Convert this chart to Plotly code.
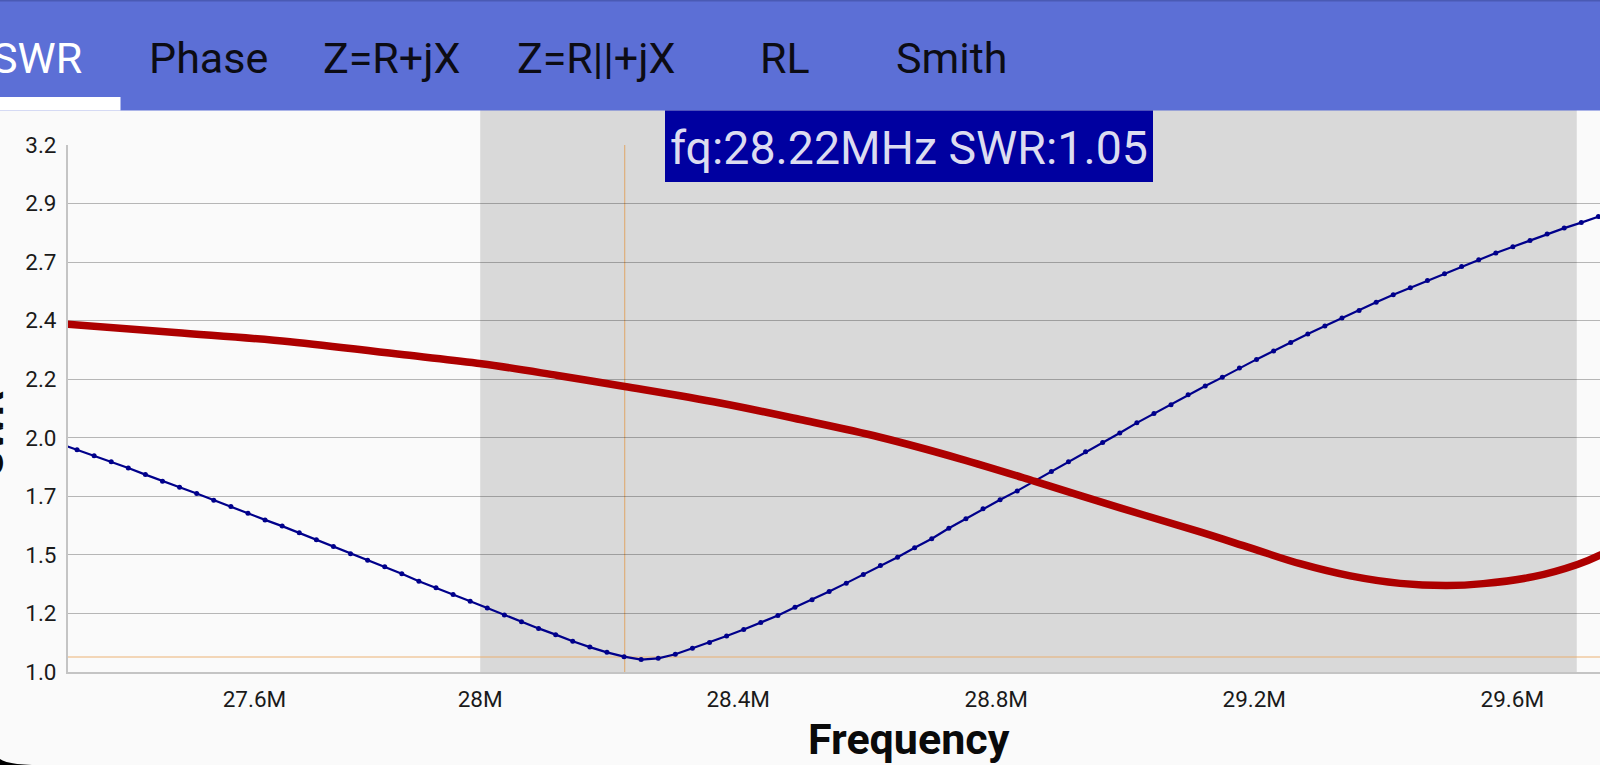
import plotly.graph_objects as go

# sweep points, MHz
freq = [27.3485, 27.375, 27.4015, 27.428, 27.4545, 27.481, 27.5075, 27.534, 27.5605, 27.587,
        27.6135, 27.64, 27.6665, 27.693, 27.7195, 27.746, 27.7725, 27.799, 27.8255, 27.852,
        27.8785, 27.905, 27.9315, 27.958, 27.9845, 28.011, 28.0375, 28.064, 28.0905, 28.117,
        28.1435, 28.17, 28.1965, 28.223, 28.2495, 28.276, 28.3025, 28.329, 28.3555, 28.382,
        28.4085, 28.435, 28.4615, 28.488, 28.5145, 28.541, 28.5675, 28.594, 28.6205, 28.647,
        28.6735, 28.70, 28.7265, 28.753, 28.7795, 28.806, 28.8325, 28.859, 28.8855, 28.912,
        28.9385, 28.965, 28.9915, 29.018, 29.0445, 29.071, 29.0975, 29.124, 29.1505, 29.177,
        29.2035, 29.23, 29.2565, 29.283, 29.3095, 29.336, 29.3625, 29.389, 29.4155, 29.442,
        29.4685, 29.495, 29.5215, 29.548, 29.5745, 29.601, 29.6275, 29.654, 29.6805, 29.707,
        29.7335, 29.76]
swr = [1.953, 1.928, 1.903, 1.878, 1.852, 1.824, 1.796, 1.771, 1.745, 1.717,
       1.691, 1.663, 1.635, 1.609, 1.581, 1.552, 1.524, 1.494, 1.467, 1.439,
       1.410, 1.379, 1.352, 1.324, 1.295, 1.267, 1.238, 1.210, 1.182, 1.156,
       1.128, 1.104, 1.082, 1.064, 1.052, 1.057, 1.074, 1.099, 1.123, 1.150,
       1.177, 1.207, 1.236, 1.270, 1.302, 1.336, 1.371, 1.407, 1.445, 1.479,
       1.519, 1.556, 1.600, 1.640, 1.681, 1.719, 1.756, 1.796, 1.837, 1.878,
       1.919, 1.958, 1.998, 2.040, 2.079, 2.116, 2.157, 2.194, 2.230, 2.269,
       2.305, 2.340, 2.376, 2.411, 2.444, 2.478, 2.509, 2.544, 2.575, 2.604,
       2.634, 2.663, 2.693, 2.721, 2.749, 2.775, 2.801, 2.828, 2.853, 2.876,
       2.901, 2.925]

# second curve, read at fewer points
freq2 = [27.349, 27.527, 27.705, 27.882, 28.002, 28.12, 28.224, 28.372, 28.496, 28.62,
         28.744, 28.86, 28.992, 29.116, 29.194, 29.271, 29.349, 29.426, 29.499, 29.555,
         29.633, 29.701, 29.736, 29.76]
swr2 = [2.454, 2.417, 2.379, 2.324, 2.287, 2.238, 2.192, 2.123, 2.054, 1.980,
        1.890, 1.796, 1.685, 1.585, 1.518, 1.452, 1.401, 1.370, 1.361, 1.369,
        1.398, 1.449, 1.488, 1.525]

ytick_vals = [1.0, 1.244, 1.489, 1.733, 1.978, 2.222, 2.467, 2.711, 2.956, 3.2]
ytick_text = ['1.0', '1.2', '1.5', '1.7', '2.0', '2.2', '2.4', '2.7', '2.9', '3.2']
xtick_vals = [27.65, 28.0, 28.4, 28.8, 29.2, 29.6]
xtick_text = ['27.6M', '28M', '28.4M', '28.8M', '29.2M', '29.6M']
tabs = ['SWR', 'Phase', 'Z=R+jX', 'Z=R||+jX', 'RL', 'Smith']
tab_x = [37, 208, 392, 596, 785, 951]
cursor_f = 28.224
cursor_swr = 1.0625
band = (28.0, 29.7)

# window pixels -> paper coordinates
L, R, T, B = 68, 1600, 145, 672
def px(x):
    return (x - L) / (R - L)
def py(y):
    return (B - y) / (B - T)

fig = go.Figure()
fig.add_trace(go.Scatter(x=freq, y=swr, mode='lines+markers', name='SWR',
                         line=dict(color='#00008b', width=2.2),
                         marker=dict(color='#00008b', size=5)))
fig.add_trace(go.Scatter(x=freq2, y=swr2, mode='lines', name='R', line_shape='spline',
                         line=dict(color='#ad0000', width=7.5)))

shapes = [
    dict(type='rect', xref='x', yref='paper', x0=band[0], x1=band[1], y0=0, y1=py(110),
         fillcolor='rgba(0,0,0,0.13)', line_width=0, layer='below'),
    dict(type='line', xref='x', yref='y', x0=cursor_f, x1=cursor_f, y0=1.0, y1=3.2,
         line=dict(color='rgba(225,165,100,0.8)', width=1.2), layer='below'),
    dict(type='line', xref='paper', yref='y', x0=0, x1=1, y0=cursor_swr, y1=cursor_swr,
         line=dict(color='rgba(235,170,100,0.6)', width=1.5), layer='below'),
    # tab bar
    dict(type='rect', xref='paper', yref='paper', x0=px(0), x1=px(1600), y0=py(110.5), y1=py(0),
         fillcolor='#5c6fd6', line_width=0),
    dict(type='rect', xref='paper', yref='paper', x0=px(0), x1=px(1600), y0=py(1.5), y1=py(0),
         fillcolor='#4a5ab4', line_width=0),
    dict(type='rect', xref='paper', yref='paper', x0=px(0), x1=px(120.5), y0=py(110.5), y1=py(97),
         fillcolor='#ffffff', line_width=0),
    # readout box
    dict(type='rect', xref='paper', yref='paper', x0=px(665), x1=px(1153), y0=py(182), y1=py(110.5),
         fillcolor='#0000a0', line_width=0),
    # rounded screen corner
    dict(type='path', xref='paper', yref='paper', fillcolor='#000000', line_width=0,
         path=f'M{px(0)},{py(759)} Q{px(6)},{py(764)} {px(32)},{py(765)} L{px(0)},{py(765)} Z'),
]

annotations = []
for i, tab in enumerate(tabs):
    annotations.append(dict(text=tab, xref='paper', yref='paper', x=px(tab_x[i]), y=py(58),
                            showarrow=False, xanchor='center', yanchor='middle',
                            font=dict(family='Roboto', size=43,
                                      color='#ffffff' if i == 0 else '#0c0c14')))
annotations += [
    dict(text='fq:28.22MHz SWR:1.05', xref='paper', yref='paper', x=px(909), y=py(148),
         showarrow=False, xanchor='center', yanchor='middle',
         font=dict(family='Roboto', size=46.5, color='#dcdcf0')),
    dict(text='<b>Frequency</b>', xref='paper', yref='paper', x=px(909), y=py(739),
         showarrow=False, xanchor='center', yanchor='middle',
         font=dict(family='Roboto', size=43, color='#0a0a0a')),
    dict(text='<b>SWR</b>', xref='paper', yref='paper', x=px(-11), y=py(434), textangle=-90,
         showarrow=False, xanchor='center', yanchor='middle',
         font=dict(family='Roboto', size=40, color='#0a0a0a')),
]

fig.update_layout(
    width=1600,
    height=765,
    margin=dict(l=L, r=1600 - R, t=T, b=765 - B),
    paper_bgcolor='#fafafa',
    plot_bgcolor='rgba(0,0,0,0)',
    showlegend=False,
    shapes=shapes,
    annotations=annotations,
    font=dict(family='Roboto', color='#1a1a1a'),
    xaxis=dict(range=[27.361, 29.736], tickvals=xtick_vals, ticktext=xtick_text,
               showgrid=False, zeroline=False, showline=True, linecolor='#c4c4c4', linewidth=2,
               ticks='outside', ticklen=6, tickcolor='rgba(0,0,0,0)', tickfont=dict(size=22.5)),
    yaxis=dict(range=[1.0, 3.2], tickvals=ytick_vals, ticktext=ytick_text,
               showgrid=True, gridcolor='rgba(0,0,0,0.27)', gridwidth=1.2, zeroline=False,
               showline=True, linecolor='#c4c4c4', linewidth=2,
               ticks='outside', ticklen=5, tickcolor='rgba(0,0,0,0)', tickfont=dict(size=22.5)),
)

fig.write_html("out.html", config=dict(displayModeBar=False),
               post_script="document.body.style.margin='0'")
